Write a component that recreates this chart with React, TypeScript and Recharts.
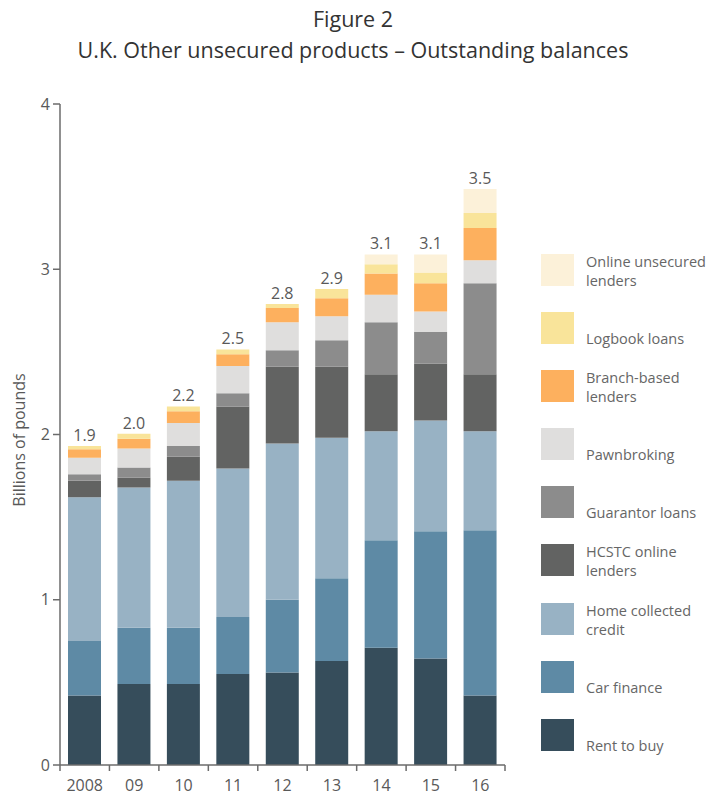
import React from "react";
import { BarChart, Bar, XAxis, YAxis, LabelList, Legend } from "recharts";

const years = ["2008", "09", "10", "11", "12", "13", "14", "15", "16"];
const rentToBuy = [0.42, 0.49, 0.49, 0.55, 0.56, 0.63, 0.71, 0.645, 0.42];
const carFinance = [0.33, 0.34, 0.34, 0.345, 0.44, 0.5, 0.65, 0.77, 1.0];
const homeCollected = [0.87, 0.85, 0.89, 0.9, 0.945, 0.85, 0.66, 0.67, 0.6];
const hcstcOnline = [0.1, 0.06, 0.145, 0.375, 0.465, 0.43, 0.345, 0.345, 0.345];
const guarantor = [0.04, 0.06, 0.065, 0.08, 0.1, 0.16, 0.315, 0.19, 0.55];
const pawnbroking = [0.1, 0.115, 0.14, 0.165, 0.17, 0.145, 0.165, 0.125, 0.14];
const branchBased = [0.05, 0.06, 0.07, 0.07, 0.085, 0.11, 0.13, 0.17, 0.195];
const logbook = [0.02, 0.03, 0.03, 0.03, 0.025, 0.055, 0.055, 0.065, 0.09];
const onlineUnsecured = [0, 0, 0, 0, 0, 0, 0.06, 0.11, 0.145];
const totalLabels = ["1.9", "2.0", "2.2", "2.5", "2.8", "2.9", "3.1", "3.1", "3.5"];
const yTicks = [0, 1, 2, 3, 4];

// bottom to top
const series = [
  { key: "rent", name: "Rent to buy", values: rentToBuy, color: "#364d5b" },
  { key: "car", name: "Car finance", values: carFinance, color: "#5e8aa5" },
  { key: "home", name: "Home collected credit", values: homeCollected, color: "#98b2c4" },
  { key: "hcstc", name: "HCSTC online lenders", values: hcstcOnline, color: "#626362" },
  { key: "guarantor", name: "Guarantor loans", values: guarantor, color: "#8c8c8c" },
  { key: "pawn", name: "Pawnbroking", values: pawnbroking, color: "#dfdedd" },
  { key: "branch", name: "Branch-based lenders", values: branchBased, color: "#fdb05e" },
  { key: "logbook", name: "Logbook loans", values: logbook, color: "#f9e49a" },
  { key: "online", name: "Online unsecured lenders", values: onlineUnsecured, color: "#fcf1d9" },
];

// legend text split as in the original
const legendLines: Record<string, string[]> = {
  online: ["Online unsecured", "lenders"],
  logbook: ["Logbook loans"],
  branch: ["Branch-based", "lenders"],
  pawn: ["Pawnbroking"],
  guarantor: ["Guarantor loans"],
  hcstc: ["HCSTC online", "lenders"],
  home: ["Home collected", "credit"],
  car: ["Car finance"],
  rent: ["Rent to buy"],
};

const data = years.map((year, i) => {
  const row: any = { year };
  series.forEach((s) => {
    row[s.key] = s.values[i];
  });
  // total label sits on the topmost non-empty segment
  row.labelTop = onlineUnsecured[i] > 0 ? totalLabels[i] : "";
  row.labelLow = onlineUnsecured[i] > 0 ? "" : totalLabels[i];
  return row;
});

const FONT = "'Open Sans', 'Noto Sans', sans-serif";
const TEXT = "#595959";
const AXIS = "#6b6b6b";
const PLOT_LEFT = 60;
const PLOT_RIGHT = 505;
const BAND = (PLOT_RIGHT - PLOT_LEFT) / years.length;

const XTick = (props: any) => {
  const { x, y, payload, index } = props;
  const last = index === years.length - 1;
  return (
    <g>
      <line x1={x - BAND / 2} x2={x - BAND / 2} y1={y} y2={y + 6} stroke={AXIS} strokeWidth={1.5} />
      {last && <line x1={x + BAND / 2} x2={x + BAND / 2} y1={y} y2={y + 6} stroke={AXIS} strokeWidth={1.5} />}
      <text x={x} y={y + 26} textAnchor="middle" fill={TEXT} fontSize={16} fontFamily={FONT}>
        {payload.value}
      </text>
    </g>
  );
};

const renderLegend = () => (
  <div style={{ fontFamily: FONT }}>
    {[...series].reverse().map((s) => (
      <div key={s.key} style={{ position: "relative", height: 58.1 }}>
        <div style={{ position: "absolute", left: 0, top: 0, width: 33, height: 32, background: s.color }} />
        <div
          style={{
            position: "absolute",
            left: 45,
            top: 0,
            height: 36,
            display: "flex",
            flexDirection: "column",
            justifyContent: "flex-end",
            fontSize: 14.5,
            lineHeight: "19px",
            color: "#666",
            whiteSpace: "nowrap",
          }}
        >
          {legendLines[s.key].map((t) => (
            <div key={t}>{t}</div>
          ))}
        </div>
      </div>
    ))}
  </div>
);

const titleStyle: React.CSSProperties = {
  position: "absolute",
  left: 0,
  width: 706,
  textAlign: "center",
  fontSize: 21.5,
  lineHeight: "21.5px",
  color: "#333",
};

const App: React.FC = () => {
  return (
    <div style={{ position: "absolute", left: 0, top: 0, width: 706, height: 795, background: "#fff", fontFamily: FONT }}>
      <div style={{ ...titleStyle, top: 8 }}>Figure 2</div>
      <div style={{ ...titleStyle, top: 39 }}>U.K. Other unsecured products – Outstanding balances</div>
      <div
        style={{
          position: "absolute",
          left: 19,
          top: 440,
          transform: "translate(-50%, -50%) rotate(-90deg)",
          whiteSpace: "nowrap",
          fontSize: 16,
          color: TEXT,
        }}
      >
        Billions of pounds
      </div>
      <div style={{ position: "absolute", left: 0, top: 0 }}>
        <BarChart
          width={706}
          height={795}
          data={data}
          margin={{ top: 104, right: 706 - PLOT_RIGHT, bottom: 0, left: 0 }}
        >
          <XAxis
            dataKey="year"
            height={30}
            tickLine={false}
            tickSize={0}
            tickMargin={0}
            stroke={AXIS}
            strokeWidth={1.5}
            tick={<XTick />}
            interval={0}
          />
          <YAxis
            width={PLOT_LEFT}
            domain={[0, 4]}
            ticks={yTicks}
            tickSize={7}
            tickMargin={3}
            stroke={AXIS}
            strokeWidth={1.5}
            tick={{ fill: TEXT, fontSize: 16, fontFamily: FONT }}
          />
          <Legend
            layout="vertical"
            align="center"
            verticalAlign="middle"
            wrapperStyle={{ left: 541, top: 254, width: 165 }}
            content={renderLegend}
          />
          {series.map((s) => (
            <Bar key={s.key} dataKey={s.key} name={s.name} stackId="a" fill={s.color} barSize={33} isAnimationActive={false}>
              {s.key === "logbook" && (
                <LabelList dataKey="labelLow" position="top" offset={5} fill={TEXT} fontSize={16} fontFamily={FONT} />
              )}
              {s.key === "online" && (
                <LabelList dataKey="labelTop" position="top" offset={5} fill={TEXT} fontSize={16} fontFamily={FONT} />
              )}
            </Bar>
          ))}
        </BarChart>
      </div>
    </div>
  );
};

export default App;
